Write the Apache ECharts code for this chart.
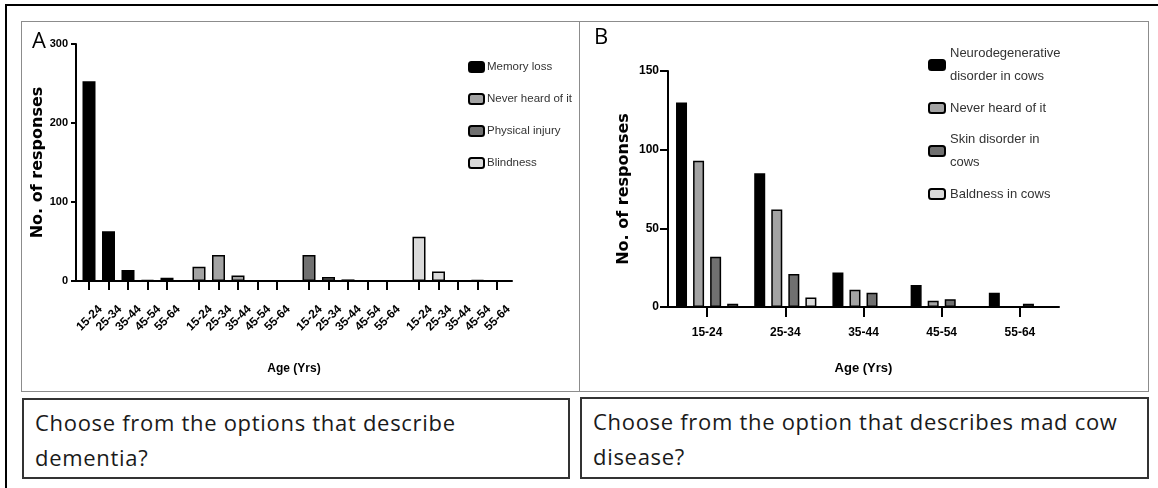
<!DOCTYPE html>
<html>
<head>
<meta charset="utf-8">
<script src="https://cdn.jsdelivr.net/npm/echarts@6/dist/echarts.min.js"></script>
<style>
  body { margin: 0; background: #fff; }
  #wrap { position: relative; width: 1158px; height: 488px; overflow: hidden; background: #fff; }
  .frame { position: absolute; box-sizing: border-box; }
  .outer { left: 5px; top: 4px; width: 1200px; height: 600px; border: 2px solid #000; }
  .panel { top: 21px; height: 371px; border: 1.5px solid #8c8c8c; }
  .question {
    border: 2px solid #333; padding: 5px 0 0 11px;
    font-family: 'Open Sans', 'Noto Sans', sans-serif; font-size: 22px; line-height: 35px;
    letter-spacing: 0.7px; color: #1a1a1a;
  }
  #chart { position: absolute; left: 0; top: 0; width: 1158px; height: 488px; }
</style>
</head>
<body>
<div id="wrap">
  <div class="frame outer"></div>
  <div class="frame panel" style="left:21px;width:559px;"></div>
  <div class="frame panel" style="left:579px;width:570px;"></div>
  <div class="frame question" style="left:22px;top:398px;width:548px;height:81px;">Choose from the options that describe<br>dementia?</div>
  <div class="frame question" style="left:580px;top:397px;width:569px;height:82px;">Choose from the option that describes mad cow<br>disease?</div>
  <div id="chart"></div>
</div>
<script>
// age groups used on both panels
const ageGroups = ['15-24', '25-34', '35-44', '45-54', '55-64']

// Panel A: "Choose from the options that describe dementia?"
const namesA = ['Memory loss', 'Never heard of it', 'Physical injury', 'Blindness']
const memoryLoss = [253, 63, 14, 1, 4]
const neverHeardA = [18, 33, 7, 0, 0]
const physicalInjury = [33, 5, 2, 0, 0]
const blindness = [56, 12, 0, 1, 0]
const ticksA = [0, 100, 200, 300]

// Panel B: "Choose from the option that describes mad cow disease?"
const namesB = ['Neurodegenerative disorder in cows', 'Never heard of it', 'Skin disorder in cows', 'Baldness in cows']
const legendLinesB = ['Neurodegenerative\ndisorder in cows', 'Never heard of it', 'Skin disorder in\ncows', 'Baldness in cows']
const neurodegenerative = [130, 85, 22, 14, 9]
const neverHeardB = [93, 62, 11, 4, 0]
const skinDisorder = [32, 21, 9, 5, 2]
const baldness = [2, 6, 0, 0, 0]
const ticksB = [0, 50, 100, 150]

const fills = ['#000000', '#a3a3a3', '#707070', '#dadada']
const axisFont = "'Liberation Sans', Arial, sans-serif"
const nameFont = "'DejaVu Sans', sans-serif"

const chart = echarts.init(document.getElementById('chart'))

// panel A groups sit in their own small grids so the gaps between groups match
const groupLeft = [79.25, 189.25, 299.25, 409.25]
const seriesA = [memoryLoss, neverHeardA, physicalInjury, blindness]
const seriesB = [neurodegenerative, neverHeardB, skinDisorder, baldness]

const grids = [{ left: 76, top: 44, width: 436, height: 237 }]
groupLeft.forEach((l) => grids.push({ left: l, top: 44, width: 97.5, height: 237 }))
grids.push({ left: 668, top: 71, width: 391, height: 236 })

const xAxes = [
  {
    gridIndex: 0, type: 'value', min: 0, max: 1,
    axisLine: { show: true, lineStyle: { color: '#000', width: 2 } },
    axisTick: { show: false }, axisLabel: { show: false }, splitLine: { show: false },
    name: 'Age (Yrs)', nameLocation: 'middle', nameGap: 82,
    nameTextStyle: { fontFamily: axisFont, fontWeight: 'bold', fontSize: 12, color: '#000' },
  },
]
const yAxes = [
  {
    gridIndex: 0, type: 'value', min: ticksA[0], max: ticksA[ticksA.length - 1], interval: ticksA[1] - ticksA[0],
    axisLine: { show: true, lineStyle: { color: '#000', width: 2 } },
    axisTick: { show: true, length: 5, lineStyle: { color: '#000', width: 2 } },
    axisLabel: { margin: 8, fontFamily: axisFont, fontWeight: 'bold', fontSize: 11, color: '#000' },
    splitLine: { show: false },
    name: 'No. of responses', nameLocation: 'middle', nameGap: 27,
    nameTextStyle: { fontFamily: nameFont, fontWeight: 'bold', fontSize: 16, color: '#000' },
  },
]
groupLeft.forEach((l, i) => {
  xAxes.push({
    gridIndex: i + 1, type: 'category', data: ageGroups,
    axisLine: { show: false },
    axisTick: { show: true, interval: 0, alignWithLabel: true, length: 9, lineStyle: { color: '#000', width: 2 } },
    axisLabel: {
      interval: 0, hideOverlap: false, rotate: 45, margin: 15, verticalAlign: 'top', padding: [10, 0, 0, 0],
      fontFamily: axisFont, fontWeight: 'bold', fontSize: 12, color: '#000',
    },
  })
  yAxes.push({ gridIndex: i + 1, type: 'value', show: false, min: 0, max: 300 })
})
xAxes.push({
  gridIndex: 5, type: 'category', data: ageGroups,
  axisLine: { show: true, lineStyle: { color: '#000', width: 2 } },
  axisTick: { show: true, interval: 0, alignWithLabel: true, length: 10, lineStyle: { color: '#000', width: 2 } },
  axisLabel: { interval: 0, margin: 20, fontFamily: axisFont, fontWeight: 'bold', fontSize: 12, color: '#000' },
  name: 'Age (Yrs)', nameLocation: 'middle', nameGap: 55,
  nameTextStyle: { fontFamily: axisFont, fontWeight: 'bold', fontSize: 13, color: '#000' },
})
yAxes.push({
  gridIndex: 5, type: 'value', min: ticksB[0], max: ticksB[ticksB.length - 1], interval: ticksB[1] - ticksB[0],
  axisLine: { show: true, lineStyle: { color: '#000', width: 2 } },
  axisTick: { show: true, length: 8, lineStyle: { color: '#000', width: 2 } },
  axisLabel: { margin: 9, fontFamily: axisFont, fontWeight: 'bold', fontSize: 12, color: '#000' },
  splitLine: { show: false },
  name: 'No. of responses', nameLocation: 'middle', nameGap: 36,
  nameTextStyle: { fontFamily: nameFont, fontWeight: 'bold', fontSize: 16, color: '#000' },
})

const series = []
seriesA.forEach((data, i) => {
  series.push({
    type: 'bar', name: namesA[i], data: data,
    xAxisIndex: i + 1, yAxisIndex: i + 1, barWidth: 13,
    itemStyle: { color: fills[i], borderColor: '#000', borderWidth: 1.5 },
  })
})
seriesB.forEach((data, i) => {
  series.push({
    type: 'bar', name: namesB[i], data: data,
    xAxisIndex: 5, yAxisIndex: 5, barWidth: 11, barGap: '55%',
    itemStyle: { color: fills[i], borderColor: '#000', borderWidth: 1.5 },
  })
})

const option = {
  animation: false,
  title: [
    { text: 'A', left: 27, top: 26, textStyle: { fontFamily: "'Open Sans', sans-serif", fontWeight: 'normal', fontSize: 22, color: '#000' } },
    { text: 'B', left: 589, top: 22, textStyle: { fontFamily: "'Open Sans', sans-serif", fontWeight: 'normal', fontSize: 22, color: '#000' } },
  ],
  legend: [
    {
      data: namesA, orient: 'vertical', left: 463, top: 55,
      itemWidth: 15, itemHeight: 10, itemGap: 18, selectedMode: false,
      textStyle: { fontFamily: axisFont, fontSize: 11.5, lineHeight: 14, color: '#333', padding: [0, 0, 0, -2] },
    },
    {
      data: namesB, orient: 'vertical', left: 923, top: 37,
      itemWidth: 16, itemHeight: 10, itemGap: 8.5, selectedMode: false,
      formatter: (name) => legendLinesB[namesB.indexOf(name)],
      textStyle: { fontFamily: axisFont, fontSize: 13, lineHeight: 23, color: '#333' },
    },
  ],
  grid: grids,
  xAxis: xAxes,
  yAxis: yAxes,
  series: series,
}

chart.setOption(option)
</script>
</body>
</html>
